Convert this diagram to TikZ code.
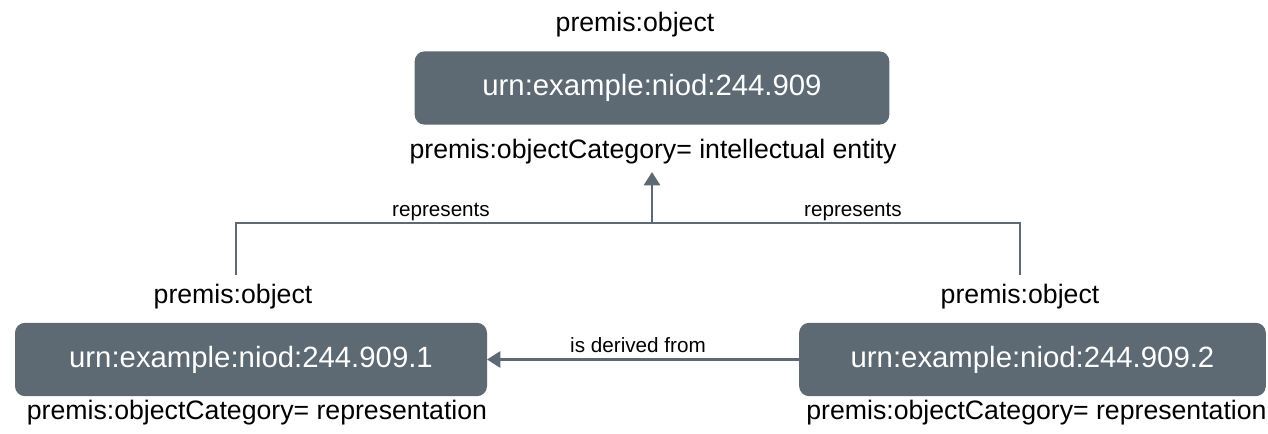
\documentclass[tikz,border=0pt]{standalone}
\usepackage{fontspec}
\setmainfont{Liberation Sans}
\usetikzlibrary{arrows.meta,positioning}
\definecolor{boxgray}{RGB}{93,106,115}
\tikzset{obj/.style={rectangle, rounded corners=7.5pt, fill=boxgray, text=white, inner sep=0pt, outer sep=0pt, minimum height=55pt, font=\fontsize{22}{26}\selectfont}}
\tikzset{lbl/.style={inner sep=0pt, font=\fontsize{20}{24}\selectfont}}
\tikzset{rel/.style={inner sep=0pt, font=\fontsize{15.5}{18}\selectfont}}
\tikzset{conn/.style={draw=boxgray, line width=2.2pt}}
\tikzset{arr/.style={conn, -{Triangle[width=12pt,length=10pt]}}}

\begin{document}
\begin{tikzpicture}[x=0.75pt, y=-0.75pt]
		\useasboundingbox (0,0) rectangle (1268,433);
		
		\node[obj, minimum width=356pt] (IE) at (652,88){urn:example:niod:244.909};
		\node[lbl] (IEtype) at (635,25){premis:object};
		\node[lbl] (IEcat) at (653,152){premis:objectCategory= intellectual entity};
		
		\node[obj, minimum width=354pt] (R1) at (251,359.5){urn:example:niod:244.909.1};
		\node[lbl] (R1type) at (233,297){premis:object};
		\node[lbl] (R1cat) at (257,413){premis:objectCategory= representation};
		
		\node[obj, minimum width=350pt] (R2) at (1032.5,359.5){urn:example:niod:244.909.2};
		\node[lbl] (R2type) at (1020,297){premis:object};
		\node[lbl] (R2cat) at (1036.5,413){premis:objectCategory= representation};
		
		\coordinate (join) at (652,223);
		\coordinate (tip) at (652,172);
		\coordinate (R1up) at (236,275);
		\coordinate (R2up) at (1020,275);
		
		\draw[conn] (R1up) |- (join) -| (R2up);
		\draw[arr] (join) -- (tip);
		\node[rel] (rep1) at (441,212){represents};
		\node[rel] (rep2) at (853,212){represents};
		
		\draw[arr] (R2) -- (R1);
		\node[rel] (der) at (638,345){is derived from};
	\end{tikzpicture}
\end{document}
